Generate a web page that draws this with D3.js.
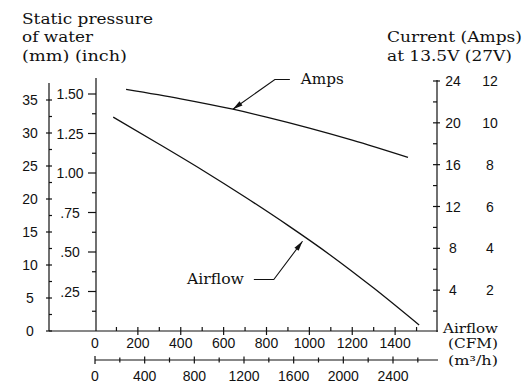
<!DOCTYPE html>
<html><head><meta charset="utf-8">
<script src="https://cdn.jsdelivr.net/npm/d3@7"></script>
<style>
body{margin:0;background:#fff;}
svg{display:block;}
.num{font-family:"Liberation Sans",Arial,sans-serif;font-size:14px;fill:#111;}
.ttl{font-family:"DejaVu Serif",serif;font-size:14px;fill:#111;}
.ann{font-family:"DejaVu Serif",serif;font-size:14px;fill:#111;}
.ann2{font-family:"DejaVu Serif",serif;font-size:13px;fill:#111;}
</style></head>
<body>
<script>
// ---- data ----
const airflowCFM = [85, 300, 500, 700, 900, 1100, 1300, 1512];
const pressureMM = [32.4, 28.3, 24.4, 20.3, 16.0, 11.45, 6.5, 0.9];
const ampsCFM = [145, 400, 643, 800, 1000, 1200, 1460];
const ampsValues = [23.2, 22.3, 21.3, 20.55, 19.5, 18.35, 16.7];
const mmTicks = [0, 5, 10, 15, 20, 25, 30, 35];
const inchTicks = [0.25, 0.5, 0.75, 1.0, 1.25, 1.5];
const inchLabels = [".25", ".50", ".75", "1.00", "1.25", "1.50"];
const ampTicks = [4, 8, 12, 16, 20, 24];
const amp27Ticks = [2, 4, 6, 8, 10, 12];
const cfmTicks = [0, 200, 400, 600, 800, 1000, 1200, 1400];
const m3Ticks = [0, 400, 800, 1200, 1600, 2000, 2400];

const W = 532, H = 392;
const svg = d3.select("body").append("svg").attr("width", W).attr("height", H);

const x = d3.scaleLinear([0, 1600], [95, 438]);
const xm3 = d3.scaleLinear([0, 2400], [95, 393]);
const yMM = d3.scaleLinear([0, 35], [331, 100]);
const yIn = d3.scaleLinear([0, 1.5], [331, 94]);
const yA = d3.scaleLinear([0, 24], [332, 81]);
const yA27 = d3.scaleLinear([0, 12], [332, 81]);

const ink = "#111";
const g = svg.append("g").attr("stroke", ink).attr("stroke-width", 1.2).attr("fill", "none");

// mm axis
const mmX = 49;
g.append("line").attr("x1", mmX).attr("x2", mmX).attr("y1", 83).attr("y2", 331);
d3.range(0, 35.1, 2.5).forEach(v => {
  const major = v % 5 === 0;
  g.append("line").attr("x1", major ? mmX - 3 : mmX).attr("x2", mmX + 3)
    .attr("y1", yMM(v)).attr("y2", yMM(v));
});
svg.selectAll(".mmlab").data(mmTicks).join("text").attr("class", "num")
  .attr("x", 30).attr("y", d => yMM(d)).attr("dy", "0.36em").attr("text-anchor", "middle").text(d => d);

// inch axis
const inX = x(0) + 1;
g.append("line").attr("x1", inX).attr("x2", inX).attr("y1", 78).attr("y2", 331);
d3.range(0.125, 1.51, 0.125).forEach(v => {
  const major = Math.abs(v / 0.25 - Math.round(v / 0.25)) < 1e-6;
  g.append("line").attr("x1", major ? inX - 8 : inX - 4).attr("x2", inX)
    .attr("y1", yIn(v)).attr("y2", yIn(v));
});
svg.selectAll(".inlab").data(inchTicks).join("text").attr("class", "num")
  .attr("x", 70).attr("y", d => yIn(d)).attr("dy", "0.36em").attr("text-anchor", "middle")
  .text((d, i) => inchLabels[i]);

// baseline (CFM axis)
g.append("line").attr("x1", mmX).attr("x2", x(1600)).attr("y1", 331).attr("y2", 331);
d3.range(100, 1501, 100).forEach(v => {
  const major = v % 200 === 0;
  g.append("line").attr("x1", x(v)).attr("x2", x(v))
    .attr("y1", 327).attr("y2", major ? 335 : 331);
});
svg.selectAll(".cfmlab").data(cfmTicks).join("text").attr("class", "num")
  .attr("x", d => x(d)).attr("y", 343).attr("dy", "0.36em").attr("text-anchor", "middle").text(d => d);

// m3/h axis
const m3Y = 360;
g.append("line").attr("x1", xm3(0)).attr("x2", x(1600)).attr("y1", m3Y).attr("y2", m3Y);
g.append("line").attr("x1", xm3(0)).attr("x2", xm3(0)).attr("y1", m3Y - 4).attr("y2", m3Y + 4);
d3.range(200, 2601, 200).forEach(v => {
  const major = v % 400 === 0;
  g.append("line").attr("x1", xm3(v)).attr("x2", xm3(v))
    .attr("y1", m3Y - (major ? 3.5 : 2.5)).attr("y2", m3Y + (major ? 3.5 : 2.5));
});
svg.selectAll(".m3lab").data(m3Ticks).join("text").attr("class", "num")
  .attr("x", d => xm3(d)).attr("y", 376).attr("dy", "0.36em").attr("text-anchor", "middle").text(d => d);

// right amps axis
const rX = x(1600) - 1;
g.append("line").attr("x1", rX).attr("x2", rX).attr("y1", 80).attr("y2", 332);
d3.range(2, 24.1, 2).forEach(v => {
  const major = v % 4 === 0;
  g.append("line").attr("x1", rX - 4).attr("x2", major ? rX + 3 : rX)
    .attr("y1", yA(v)).attr("y2", yA(v));
});
svg.selectAll(".alab").data(ampTicks).join("text").attr("class", "num")
  .attr("x", 453).attr("y", d => yA(d)).attr("dy", "0.36em").attr("text-anchor", "middle").text(d => d);
svg.selectAll(".a27lab").data(amp27Ticks).join("text").attr("class", "num")
  .attr("x", 490).attr("y", d => yA27(d)).attr("dy", "0.36em").attr("text-anchor", "middle").text(d => d);

// curves
const airLine = d3.line().x(d => x(d[0])).y(d => yMM(d[1])).curve(d3.curveMonotoneX);
const ampLine = d3.line().x(d => x(d[0])).y(d => yA(d[1])).curve(d3.curveMonotoneX);
g.append("path").attr("d", airLine(d3.zip(airflowCFM, pressureMM))).attr("stroke-width", 1.3);
g.append("path").attr("d", ampLine(d3.zip(ampsCFM, ampsValues))).attr("stroke-width", 1.3);

// arrows
function arrow(pts) {
  const p = pts.map(d => [d[0], d[1]]);
  g.append("path").attr("d", d3.line()(p)).attr("stroke-width", 1.1);
  const [tx, ty] = p[p.length - 1], [sx, sy] = p[p.length - 2];
  const ang = Math.atan2(ty - sy, tx - sx), L = 10, Wd = 2.6;
  const bx = tx - L * Math.cos(ang), by = ty - L * Math.sin(ang);
  const nx = -Math.sin(ang) * Wd, ny = Math.cos(ang) * Wd;
  svg.append("path").attr("fill", ink)
    .attr("d", `M${tx},${ty}L${bx + nx},${by + ny}L${bx - nx},${by - ny}Z`);
}
arrow([[x(909), yA(24.15)], [x(839), yA(24.15)], [x(643), yA(21.3)]]);
arrow([[x(741), yMM(7.8)], [x(834), yMM(7.8)], [x(968), yMM(13.6)]]);

svg.append("text").attr("class", "ann").attr("x", x(960)).attr("y", yA(24.1)).attr("dy", "0.3em")
  .attr("textLength", 43).attr("lengthAdjust", "spacingAndGlyphs").text("Amps");
svg.append("text").attr("class", "ann").attr("x", x(695)).attr("y", yMM(7.8)).attr("dy", "0.3em")
  .attr("text-anchor", "end").attr("textLength", 57).attr("lengthAdjust", "spacingAndGlyphs").text("Airflow");

// titles
function ttl(txt, xx, yy, len, cls) {
  svg.append("text").attr("class", cls || "ttl").attr("x", xx).attr("y", yy)
    .attr("textLength", len).attr("lengthAdjust", "spacingAndGlyphs").text(txt);
}
ttl("Static pressure", 22, 24, 131);
ttl("of water", 22, 42, 71);
ttl("(mm) (inch)", 22, 61, 105);
ttl("Current (Amps)", 387, 42, 135);
ttl("at 13.5V (27V)", 387, 61, 125);
ttl("Airflow", 443, 333, 55, "ann2");
ttl("(CFM)", 448, 348, 50, "ann2");
ttl("(m³/h)", 448, 365, 50, "ann2");
</script>
</body></html>
